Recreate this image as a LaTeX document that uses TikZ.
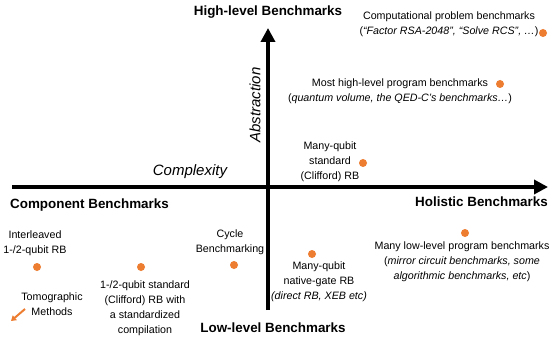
\documentclass[tikz,border=0pt]{standalone}
\usepackage{fontspec}
\setmainfont{Liberation Sans}
\usetikzlibrary{arrows.meta}
\definecolor{dotc}{HTML}{ED7D31}
\begin{document}
\begin{tikzpicture}[x=1pt,y=-1pt,
 lbl/.style={align=center,font=\fontsize{10.7}{15}\selectfont,inner sep=0},
 ttl/.style={font=\bfseries\fontsize{13.4}{15}\selectfont,inner sep=0},
 axlbl/.style={font=\itshape\fontsize{15}{17}\selectfont,inner sep=0},
 dot/.style={circle,fill=dotc,minimum size=8pt,inner sep=0},
 axis/.style={line width=4pt,-{Triangle[width=14pt,length=14pt]}},
 oarrow/.style={draw=dotc,line width=2pt,-{Triangle[width=6pt,length=5pt]}}]
\useasboundingbox[fill=white] (0,0) rectangle (556,339);
\coordinate (xl) at (12,187); \coordinate (xr) at (548,187);
\coordinate (yb) at (268,310); \coordinate (yt) at (268,28);
\draw[axis] (xl) -- (xr);
\draw[axis] (yb) -- (yt);
\node[ttl] (hi) at (268,12) {High-level Benchmarks};
\node[ttl,anchor=west] (comp) at (10,205) {Component Benchmarks};
\node[ttl,anchor=east] (hol) at (548,202) {Holistic Benchmarks};
\node[ttl] (lo) at (273,328) {Low-level Benchmarks};
\node[axlbl] (cx) at (190,172) {Complexity};
\node[axlbl,rotate=90] (ab) at (255,105) {Abstraction};
% points
\node[lbl] (cp) at (449,24.5) {Computational problem benchmarks\\(\textit{“Factor RSA-2048”, “Solve RCS”, …})};
\node[dot] (cpd) at (543,33) {};
\node[lbl] (mh) at (400,91.5) {Most high-level program benchmarks\\(\textit{quantum volume, the QED-C’s benchmarks…})};
\node[dot] (mhd) at (500,84) {};
\node[lbl] (ms) at (330,162) {Many-qubit\\standard\\(Clifford) RB};
\node[dot] (msd) at (363,163) {};
\node[lbl] (il) at (35,243) {Interleaved\\1-/2-qubit RB};
\node[dot] (ild) at (37,267) {};
\node[lbl] (sc) at (145,308.5) {1-/2-qubit standard\\(Clifford) RB with\\a standardized\\compilation};
\node[dot] (scd) at (141,267) {};
\node[lbl] (cb) at (230,242.5) {Cycle\\Benchmarking};
\node[dot] (cbd) at (234,265) {};
\node[lbl] (tm) at (52,304) {Tomographic\\Methods};
\coordinate (ta) at (25,309); \coordinate (tb) at (11,321);
\draw[oarrow] (ta) -- (tb);
\node[lbl] (ng) at (319,282) {Many-qubit\\native-gate RB\\\textit{(direct RB, XEB etc)}};
\node[dot] (ngd) at (312,254) {};
\node[lbl] (ml) at (462,262) {Many low-level program benchmarks\\(\textit{mirror circuit benchmarks, some}\\\textit{algorithmic benchmarks, etc})};
\node[dot] (mld) at (465,233) {};
\end{tikzpicture}
\end{document}
